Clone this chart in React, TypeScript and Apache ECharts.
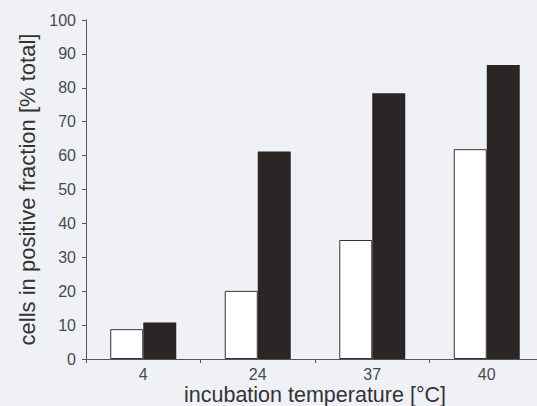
import React, { useEffect, useRef } from "react";
import * as echarts from "echarts";

const categories = ["4", "24", "37", "40"];
const openBars = [8.8, 20.1, 35.1, 61.9];
const filledBars = [10.8, 61.2, 78.4, 86.7];
const yTicks = { min: 0, max: 100, interval: 10 };

export default function App() {
  const ref = useRef<HTMLDivElement>(null);
  useEffect(() => {
    document.body.style.margin = "0";
    document.body.style.background = "#eff1f7";
    const chart = echarts.init(ref.current!, null, { renderer: "svg" });
    const font = "Liberation Sans, Arial, sans-serif";
    chart.setOption({
      animation: false,
      backgroundColor: "#eff1f7",
      grid: {
        left: 86,
        right: -7,
        top: 20,
        bottom: 47,
        containLabel: false,
        outerBoundsMode: "none",
      },
      xAxis: {
        type: "category",
        data: categories,
        name: "incubation temperature [°C]",
        nameLocation: "middle",
        nameGap: 25,
        nameMoveOverlap: false,
        nameTextStyle: {
          fontFamily: font,
          fontSize: 21.5,
          lineHeight: 21,
          color: "#333",
          verticalAlign: "top",
        },
        axisLine: { lineStyle: { color: "#555", width: 1 } },
        axisTick: { show: true, length: 4, inside: false, lineStyle: { color: "#555" } },
        axisLabel: { fontFamily: font, fontSize: 16, color: "#4a4a4a", margin: 7 },
      },
      yAxis: {
        type: "value",
        min: yTicks.min,
        max: yTicks.max,
        interval: yTicks.interval,
        name: "cells in positive fraction [% total]",
        nameLocation: "middle",
        nameGap: 48,
        nameMoveOverlap: false,
        nameTextStyle: { fontFamily: font, fontSize: 22, color: "#333" },
        axisLine: { show: true, lineStyle: { color: "#555", width: 1 } },
        axisTick: { show: true, length: 4, lineStyle: { color: "#555" } },
        axisLabel: { fontFamily: font, fontSize: 16, color: "#4a4a4a", margin: 10 },
        splitLine: { show: false },
      },
      series: [
        {
          type: "bar",
          data: openBars,
          barWidth: 33,
          barGap: "0%",
          itemStyle: { color: "#ffffff", borderColor: "#333", borderWidth: 1 },
        },
        {
          type: "bar",
          data: filledBars,
          barWidth: 33,
          barGap: "0%",
          itemStyle: { color: "#2b2526" },
        },
      ],
    });
    return () => chart.dispose();
  }, []);
  return <div ref={ref} style={{ width: 537, height: 406 }} />;
}
